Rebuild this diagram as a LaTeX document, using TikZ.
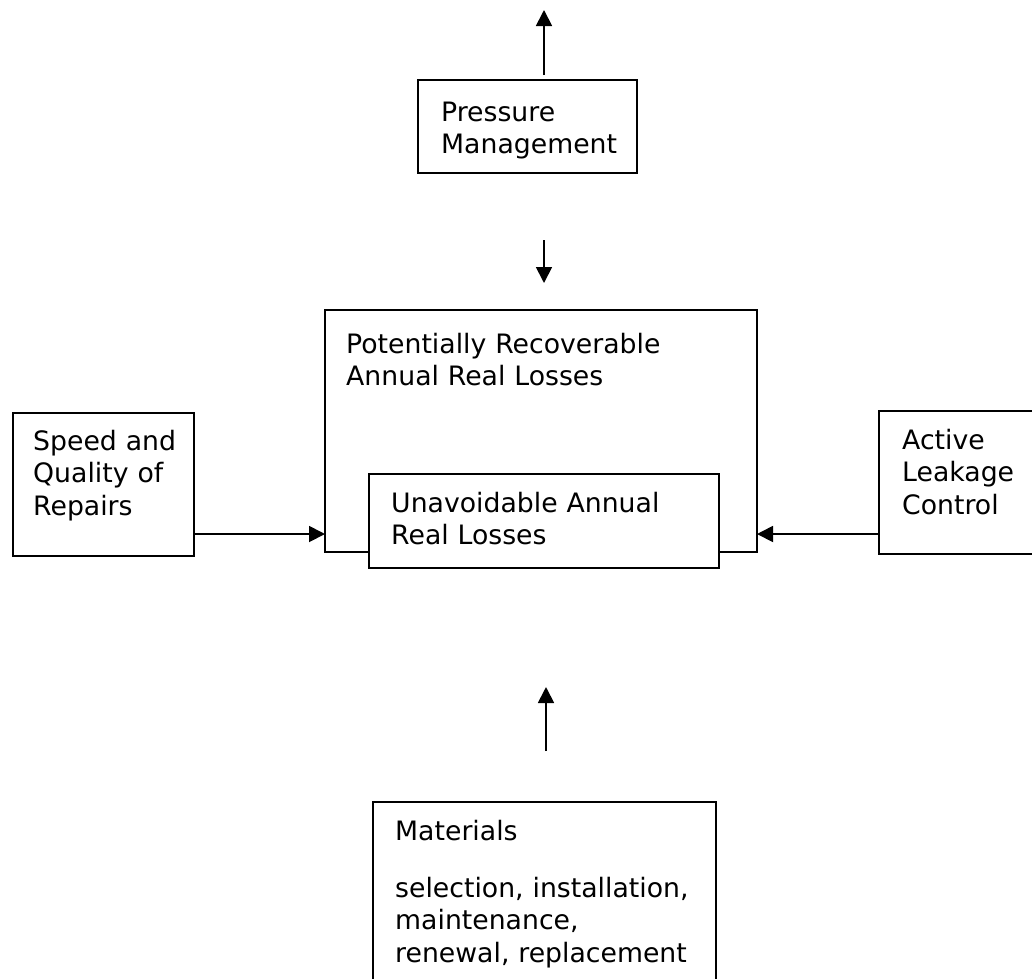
\documentclass[tikz,border=0pt]{standalone}
\usepackage{fontspec}
\setmainfont{DejaVu Sans}
\usetikzlibrary{arrows.meta}
\begin{document}
\begin{tikzpicture}[x=1pt,y=-1pt,
  box/.style={draw, line width=1.8pt, rectangle, inner sep=0pt, outer sep=0pt, anchor=north west, fill=white},
  boxtext/.style={anchor=base west, inner sep=0pt, text width=380pt, align=left,
    font=\fontsize{26.7}{32.5}\selectfont},
  arr/.style={line width=1.8pt, -{Triangle[length=16pt,width=16pt]}}]
  \path[use as bounding box] (0,0) rectangle (1032,978);
  \clip (0,0) rectangle (1032,978);

  % boxes
  \node[box, minimum width=219pt, minimum height=93pt] (pm) at (418,80) {};
  \node[box, minimum width=432pt, minimum height=242pt] (prl) at (325,310) {};
  \node[box, minimum width=350pt, minimum height=94pt] (ulr) at (369,474) {};
  \node[box, minimum width=181pt, minimum height=143pt] (rep) at (13,413) {};
  \node[box, minimum width=200pt, minimum height=143pt] (alc) at (879,411) {};
  \node[box, minimum width=343pt, minimum height=200pt] (mat) at (373,802) {};

  % texts
  \node[boxtext] (pm-t) at (441,121) {Pressure\\Management};
  \node[boxtext] (prl-t) at (346,353) {Potentially Recoverable\\Annual Real Losses};
  \node[boxtext] (ulr-t) at (391,512) {Unavoidable Annual\\Real Losses};
  \node[boxtext] (rep-t) at (33,450) {Speed and\\Quality of\\Repairs};
  \node[boxtext] (alc-t) at (902,449) {Active\\Leakage\\Control};
  \node[boxtext] (mat-t) at (395,840) {Materials\\[24.5pt]selection, installation,\\maintenance,\\renewal, replacement};

  % free-standing arrows
  \coordinate (up1s) at (544,75);
  \coordinate (up1e) at (544,10);
  \coordinate (dn1s) at (544,240);
  \coordinate (dn1e) at (544,283);
  \coordinate (up2s) at (546,751);
  \coordinate (up2e) at (546,687);
  \draw[arr] (up1s) -- (up1e);
  \draw[arr] (dn1s) -- (dn1e);
  \draw[arr] (up2s) -- (up2e);

  % side arrows into the main box
  \coordinate (lvl) at (0,534);
  \draw[arr] (rep.east |- lvl) -- (prl.west |- lvl);
  \draw[arr] (alc.west |- lvl) -- (prl.east |- lvl);
\end{tikzpicture}
\end{document}
